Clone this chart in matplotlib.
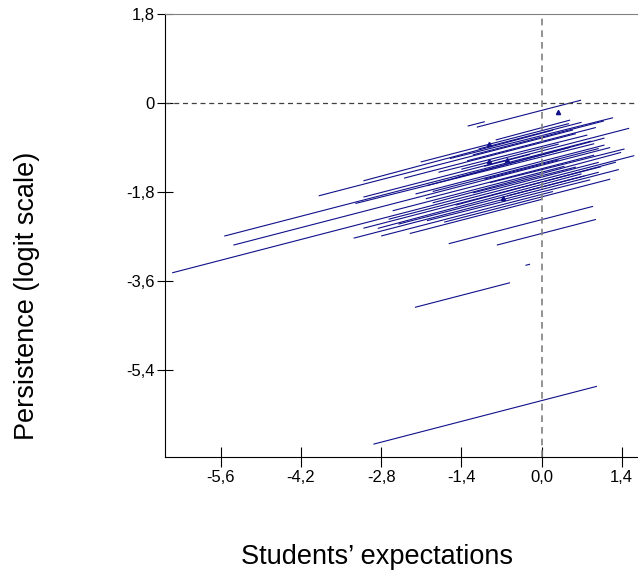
import matplotlib
matplotlib.use("Agg")
import matplotlib.pyplot as plt
import numpy as np

# school-level regression lines: x range, intercept, slope
x_start = [-6.45, -5.54, -5.38, -3.89, -3.11, -3.11, -3.25, -3.11, -3.28, -2.86,
           -2.67, -2.02, -2.11, -1.13, -1.29, -1.62, -0.78, -2.21, -0.28, -2.935,
           -1.60, -1.20, -1.90, -1.00, -2.40, -1.80, -2.20, -1.50, -2.60, -1.70,
           -2.00, -0.60, -1.40, -0.80, -2.30, -1.00, -1.20, -1.90, -1.50, -2.50,
           -1.30, -0.90, -2.80, -1.10, -2.00]
x_end = [1.00, 0.87, 1.20, 0.55, 0.20, 1.53, 0.92, 1.04, 1.35, 0.70,
         1.62, 0.92, 0.48, 0.69, -0.99, 0.90, 0.95, -0.55, -0.20, 0.968,
         1.25, 1.09, 1.39, 0.30, 0.60, 0.80, 1.10, 0.50, 0.40, 1.20,
         0.85, 1.00, 0.30, 0.50, 0.00, -0.20, 0.60, 1.00, 1.30, 0.75,
         0.95, 1.45, 0.20, 0.70, 1.10]
intercept = [-1.50, -1.03, -1.26, -0.71, -0.61, -0.97, -1.09, -1.60, -1.75, -1.65,
             -1.55, -1.33, -0.56, -0.15, -0.08, -2.36, -2.64, -3.47, -3.20, -6.02,
             -0.66, -0.69, -1.43, -1.24, -0.80, -0.88, -1.18, -1.05, -1.40, -1.90,
             -1.80, -1.70, -0.92, -0.50, -1.95, -0.98, -1.47, -1.22, -1.60, -1.70,
             -0.78, -1.35, -1.85, -0.60, -1.05]
slope = [0.30, 0.30, 0.30, 0.30, 0.31, 0.30, 0.29, 0.30, 0.30, 0.31,
         0.30, 0.30, 0.30, 0.30, 0.30, 0.30, 0.30, 0.30, 0.30, 0.30,
         0.29, 0.30, 0.31, 0.30, 0.30, 0.29, 0.30, 0.31, 0.30, 0.30,
         0.29, 0.30, 0.30, 0.31, 0.30, 0.30, 0.29, 0.30, 0.31, 0.30,
         0.30, 0.29, 0.30, 0.30, 0.31]

# schools with a single observed value
tri_x = [0.29, -0.92, -0.92, -0.61, -0.68]
tri_y = [-0.18, -0.83, -1.17, -1.15, -1.92]

xticks = [-5.6, -4.2, -2.8, -1.4, 0.0, 1.4]
xtick_labels = ["-5,6", "-4,2", "-2,8", "-1,4", "0,0", "1,4"]
yticks = [1.8, 0.0, -1.8, -3.6, -5.4]
ytick_labels = ["1,8", "0", "-1,8", "-3,6", "-5,4"]

fig = plt.figure(figsize=(6.38, 5.79), dpi=100)
ax = fig.add_axes([0.2586, 0.2107, 0.7414, 0.7651])

navy = "#10108a"
for x0, x1, a, b in zip(x_start, x_end, intercept, slope):
    xs = np.array([x0, x1])
    ax.plot(xs, a + b * xs, color=navy, lw=0.8, solid_capstyle="butt")
ax.plot(tri_x, tri_y, linestyle="none", marker="^", ms=3, color=navy)

ax.axhline(0, color="#404040", ls=(0, (4, 3)), lw=0.9)
ax.axvline(0, color="#808080", ls=(0, (4, 3)), lw=1.2)

ax.set_xlim(-6.575, 1.685)
ax.set_ylim(-7.16, 1.8)
ax.set_xticks(xticks)
ax.set_xticklabels(xtick_labels)
ax.set_yticks(yticks)
ax.set_yticklabels(ytick_labels)
ax.tick_params(axis="x", direction="inout", length=15, width=0.8, pad=2,
               labelsize=12, colors="black")
ax.tick_params(axis="y", direction="inout", length=11, width=0.8, pad=2,
               labelsize=12, colors="black")
for lab in ax.get_xticklabels() + ax.get_yticklabels():
    lab.set_family(["Liberation Sans", "DejaVu Sans"])

ax.spines["right"].set_visible(False)
ax.spines["top"].set_color("#808080")
ax.spines["left"].set_color("black")
ax.spines["bottom"].set_color("black")
for s in ax.spines.values():
    s.set_linewidth(0.8)

label_font = ["Liberation Sans Narrow", "Liberation Sans", "DejaVu Sans"]
fig.text(377 / 638, 1 - 557 / 579, "Students\u2019 expectations", ha="center",
         va="center", fontsize=19.5, family=label_font)
fig.text(27 / 638, 1 - 296 / 579, "Persistence (logit scale)", ha="center",
         va="center", rotation=90, fontsize=19.5, family=label_font)

fig.savefig("out.png", dpi=100)
